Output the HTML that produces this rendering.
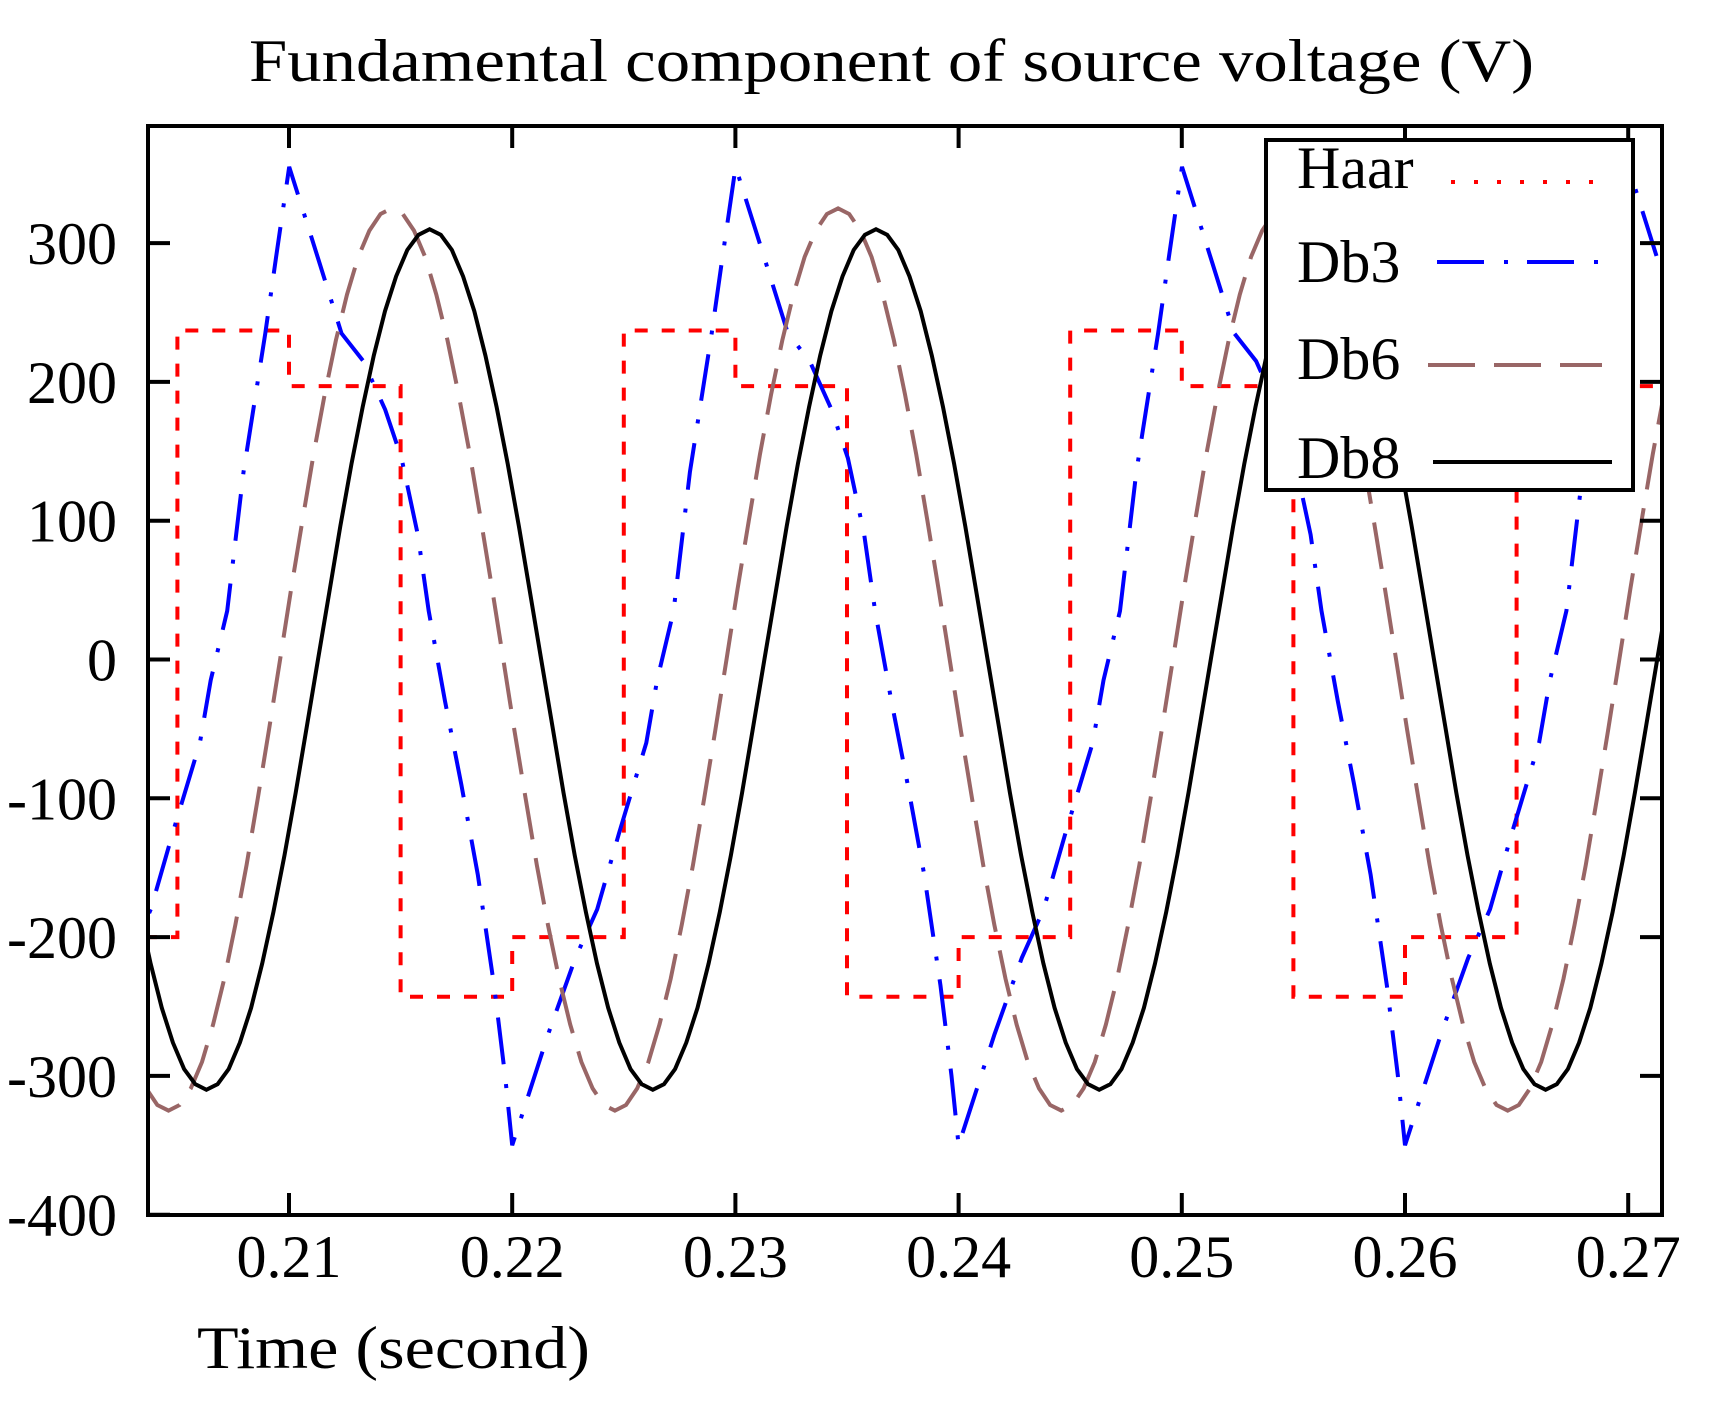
<!DOCTYPE html>
<html><head><meta charset="utf-8"><style>
html,body{margin:0;padding:0;background:#fff;}
svg{display:block;font-family:"Liberation Serif",serif;}
</style></head><body>
<svg id="chart" width="1711" height="1401" viewBox="0 0 1711 1401" xmlns="http://www.w3.org/2000/svg">
<defs><clipPath id="plotclip"><rect x="148" y="126" width="1514" height="1089"/></clipPath></defs>
<text x="249" y="81" font-size="60" textLength="1285" lengthAdjust="spacingAndGlyphs">Fundamental component of source voltage (V)</text>
<g id="series" clip-path="url(#plotclip)"></g>
<g id="axes"></g>
<rect x="148" y="126" width="1514" height="1089" fill="none" stroke="#000" stroke-width="4"/>
<text x="197" y="1368" font-size="60" textLength="393" lengthAdjust="spacingAndGlyphs">Time (second)</text>
<g>
<rect x="1266" y="140" width="367" height="350" fill="#fff" stroke="#000" stroke-width="4"/>
<text x="1297" y="188" font-size="60">Haar</text>
<line x1="1451" y1="182" x2="1598" y2="182" stroke="#ff0000" stroke-width="4" stroke-dasharray="4 19"/>
<text x="1297" y="282" font-size="60">Db3</text>
<line x1="1437" y1="262" x2="1598" y2="262" stroke="#0000ff" stroke-width="4" stroke-dasharray="47 20 4 19"/>
<text x="1297" y="379" font-size="60">Db6</text>
<line x1="1428" y1="365" x2="1602" y2="365" stroke="#996666" stroke-width="4" stroke-dasharray="47 19"/>
<text x="1297" y="478" font-size="60">Db8</text>
<line x1="1433" y1="462" x2="1612" y2="462" stroke="#000" stroke-width="4"/>
</g>
</svg>
<script>
// ---- data ----
const xTicks = [0.21, 0.22, 0.23, 0.24, 0.25, 0.26, 0.27];
const xTickLabels = ["0.21", "0.22", "0.23", "0.24", "0.25", "0.26", "0.27"];
const yTicks = [-400, -300, -200, -100, 0, 100, 200, 300];
const yTickLabels = ["-400", "-300", "-200", "-100", "0", "100", "200", "300"];
const period = 0.02;
// Haar: step values within one cycle, starting at haarStart
const haarStart = 0.205;
const haarStepTimes = [0, 0.005, 0.010, 0.015];
const haarStepValues = [237, 197, -243, -200];
// Db3: one cycle, starting at the minimum (t=0.20)
const db3Start = 0.200;
const db3Times = [0, 0.00161, 0.00283, 0.00381, 0.00479, 0.00601, 0.00649, 0.00723, 0.00796, 0.00894, 0.00942, 0.01001, 0.01089, 0.01138, 0.01235, 0.01333, 0.01431, 0.01504, 0.01577, 0.01626, 0.01699, 0.01772, 0.01846, 0.01919, 0.01968, 0.02];
const db3Values = [-350, -270, -215, -180, -125, -60, -15, 35, 135, 235, 290, 355, 310, 285, 235, 215, 180, 145, 90, 35, -30, -90, -155, -235, -300, -350];
// Db6: one cycle sampled every 0.0005 s, starting at upward zero crossing
const db6Start = 0.2096;
const db6Cycle = [0,51,100,148,191,230,263,290,309,321,325,321,309,290,263,230,191,148,100,51,0,-51,-100,-148,-191,-230,-263,-290,-309,-321,-325,-321,-309,-290,-263,-230,-191,-148,-100,-51];
// Db8: one cycle sampled every 0.0005 s, starting at upward zero crossing
const db8Start = 0.2113;
const db8Cycle = [0,48,96,141,182,219,251,276,295,306,310,306,295,276,251,219,182,141,96,48,0,-48,-96,-141,-182,-219,-251,-276,-295,-306,-310,-306,-295,-276,-251,-219,-182,-141,-96,-48];
const sampleStep = 0.0005;

// ---- axes ----
const X0 = 148, X1 = 1662, Y0 = 126, Y1 = 1215;
function xs(t){ return 289 + (t - 0.21) * 22320; }
function ys(v){ return 659.5 - v * 1.388; }
const tMin = 0.2035, tMax = 0.2718;
const NS = 'http://www.w3.org/2000/svg';
const series = document.getElementById('series');
const axes = document.getElementById('axes');
function mk(tag, attrs, parent){
  const e = document.createElementNS(NS, tag);
  for (const k in attrs) e.setAttribute(k, attrs[k]);
  parent.appendChild(e); return e;
}
xTicks.forEach((t, i) => {
  const x = xs(t);
  const tk = mk('path', {d:`M${x},${Y1}V${Y1-22}M${x},${Y0}V${Y0+22}`, stroke:'#000', 'stroke-width':4}, axes);
  
  
  const lb = mk('text', {x:x, y:1277, 'font-size':60, 'text-anchor':'middle'}, axes);
  lb.textContent = xTickLabels[i];
  
  
});
yTicks.forEach((v, i) => {
  const y = ys(v);
  const tk = mk('path', {d:`M${X0},${y}H${X0+22}M${X1},${y}H${X1-22}`, stroke:'#000', 'stroke-width':4}, axes);
  
  
  const lb = mk('text', {x:117, y:y+21, 'font-size':60, 'text-anchor':'end'}, axes);
  lb.textContent = yTickLabels[i];
  
  
});

// ---- series ----
function addPath(pts, color, dash, name){
  const d = pts.map((p, i) => (i ? 'L' : 'M') + xs(p[0]).toFixed(1) + ',' + ys(p[1]).toFixed(1)).join('');
  const e = mk('path', {d:d, fill:'none', stroke:color, 'stroke-width':4, 'stroke-dasharray':dash}, series);
  
  
}
// Haar (step)
(function(){
  const pts = [];
  let prev = haarStepValues[haarStepValues.length - 1];
  pts.push([tMin, prev]);
  for (let c = -1; c < 5; c++) {
    haarStepTimes.forEach((st, i) => {
      const t = haarStart + c * period + st;
      if (t > tMax) return;
      if (t < tMin) { prev = haarStepValues[i]; return; }
      pts.push([t, prev]); pts.push([t, haarStepValues[i]]); prev = haarStepValues[i];
    });
  }
  pts.push([tMax, prev]);
  addPath(pts, '#ff0000', '13 14', 'haar-line');
})();
// Db3
(function(){
  const pts = [];
  for (let c = 0; c < 4; c++) {
    db3Times.forEach((dt, i) => {
      if (c > 0 && i === 0) return;
      pts.push([db3Start + c * period + dt, db3Values[i]]);
    });
  }
  addPath(pts, '#0000ff', '47 20 4 19', 'db3-line');
})();
// cyclic sampled series
function cyc(start, cycle, color, dash, name){
  const pts = [];
  const n = cycle.length;
  for (let k = -20; k <= 150; k++) {
    const t = start + k * sampleStep;
    if (t < tMin - 0.001 || t > tMax + 0.001) continue;
    pts.push([t, cycle[((k % n) + n) % n]]);
  }
  addPath(pts, color, dash, name);
}
cyc(db6Start, db6Cycle, '#996666', '47 19', 'db6-line');
cyc(db8Start, db8Cycle, '#000000', 'none', 'db8-line');
</script>
</body></html>
